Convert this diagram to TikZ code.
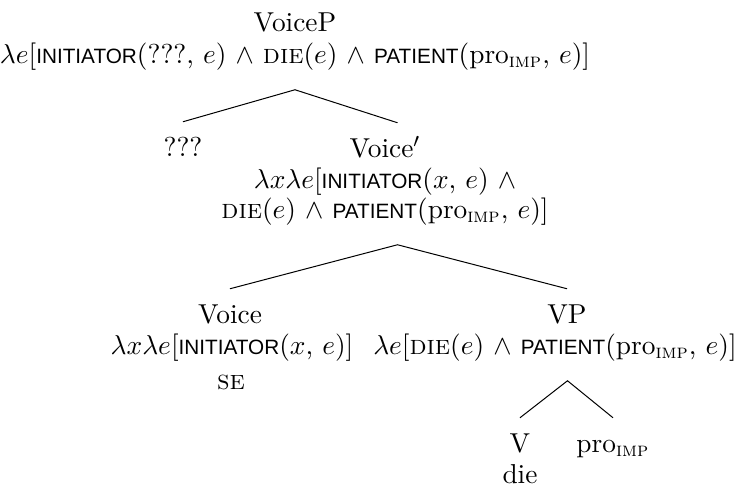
\documentclass[tikz,border=0pt,11pt]{standalone}
\usepackage{fontspec}
\usepackage{amsmath}
\newfontfamily\relfont{Liberation Sans}
\newcommand{\rel}[1]{{\relfont\fontsize{8.3}{10}\selectfont #1}}
\newcommand{\imp}{\text{\textsc{imp}}}

\begin{document}
\begin{tikzpicture}[x=0.4pt,y=-0.4pt,
    cat/.style={anchor=base,inner sep=0pt,text height=13.5pt},
    sem/.style={anchor=base,inner sep=0pt,text depth=10.5pt}]
  \useasboundingbox (0,0) rectangle (743,489);
  % VoiceP
  \node[cat] (voicep) at (295,31) {VoiceP};
  \node[sem] (voicepsem) at (295,63) {$\lambda e$[\rel{INITIATOR}(???, $e$) $\wedge$ \textsc{die}($e$) $\wedge$ \rel{PATIENT}(pro$_{\imp}$, $e$)]};
  % ??? and Voice'
  \node[cat] (qqq) at (183,156) {???};
  \node[cat] (voicebar) at (385,157) {Voice$'$};
  \node[anchor=base,inner sep=0pt] (voicebarsema) at (385,188) {$\lambda x\lambda e$[\rel{INITIATOR}($x$, $e$) $\wedge$};
  \node[sem] (voicebarsemb) at (385,218) {\textsc{die}($e$) $\wedge$ \rel{PATIENT}(pro$_{\imp}$, $e$)]};
  % Voice and VP
  \node[cat] (voice) at (230,323) {Voice};
  \node[anchor=base,inner sep=0pt] (voicesem) at (232,354) {$\lambda x\lambda e$[\rel{INITIATOR}($x$, $e$)]};
  \node[anchor=base,inner sep=0pt] (se) at (231,389) {\textsc{se}};
  \node[cat] (vp) at (567,323) {VP};
  \node[sem] (vpsem) at (555,354) {$\lambda e$[\textsc{die}($e$) $\wedge$ \rel{PATIENT}(pro$_{\imp}$, $e$)]};
  % V and pro
  \node[cat] (v) at (520,452) {V};
  \node[anchor=base,inner sep=0pt] (die) at (520,483) {die};
  \node[cat] (pro) at (613,452) {pro$_{\imp}$};

  \draw (qqq.north) -- (voicepsem.south) -- ([xshift=5pt]voicebar.north);
  \draw (voice.north) -- ([xshift=5pt]voicebarsemb.south) -- (vp.north);
  \draw (v.north) -- ([xshift=5pt]vpsem.south) -- (pro.north);
\end{tikzpicture}
\end{document}
